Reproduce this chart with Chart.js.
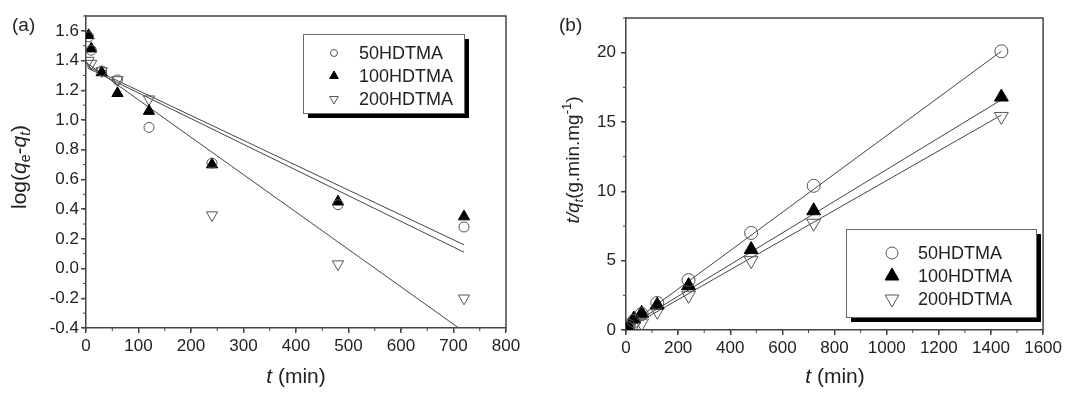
<!DOCTYPE html>
<html>
<head>
<meta charset="utf-8">
<script src="https://cdn.jsdelivr.net/npm/chart.js@4.4.0/dist/chart.umd.min.js"></script>
<style>
  body { margin: 0; background: #fff; }
  #wrap { position: relative; width: 1065px; height: 395px; }
  canvas { position: absolute; top: 0; }
  #ca { left: 0; }
  #cb { left: 530px; }
</style>
</head>
<body>
<div id="wrap">
  <canvas id="ca" width="530" height="395"></canvas>
  <canvas id="cb" width="535" height="395"></canvas>
</div>
<script>
const seriesNames = ['50HDTMA', '100HDTMA', '200HDTMA'];

// (a) log(qe-qt) vs t
const timeA = [5, 10, 30, 60, 120, 240, 480, 720];
const logA50 = [1.56, 1.47, 1.33, 1.27, 0.95, 0.71, 0.43, 0.28];
const logA100 = [1.57, 1.48, 1.32, 1.18, 1.06, 0.70, 0.45, 0.35];
const logA200 = [1.40, 1.38, 1.33, 1.27, 1.14, 0.36, 0.03, -0.20];
// fitted lines (start, end)
const fitTimeA = [[3, 720], [3, 720], [3, 710]];
const fitA = [[1.36, 0.16], [1.35, 0.11], [1.38, -0.40]];
const xTicksA = [0, 100, 200, 300, 400, 500, 600, 700, 800];
const yTicksA = [-0.4, -0.2, 0, 0.2, 0.4, 0.6, 0.8, 1.0, 1.2, 1.4, 1.6];

// (b) t/qt vs t
const timeB = [5, 10, 30, 60, 120, 240, 480, 720, 1440];
const tqB50 = [0.15, 0.3, 0.65, 1.15, 1.95, 3.6, 7.0, 10.4, 20.1];
const tqB100 = [0.12, 0.25, 0.8, 1.2, 1.8, 3.2, 5.8, 8.6, 16.8];
const tqB200 = [0.1, 0.2, 0.3, 0.5, 1.35, 2.5, 5.0, 7.7, 15.4];
const fitTimeB = [0, 1440];
const fitB = [[0.2, 20.1], [0.15, 16.6], [0.05, 15.5]];
const xTicksB = [0, 200, 400, 600, 800, 1000, 1200, 1400, 1600];
const yTicksB = [0, 5, 10, 15, 20];

const FONT = "'Liberation Sans', Arial, sans-serif";
const markers = [
  { pointStyle: 'circle', rotation: 0, fill: 'rgba(0,0,0,0)', stroke: '#555' },
  { pointStyle: 'triangle', rotation: 0, fill: '#000', stroke: '#000' },
  { pointStyle: 'triangle', rotation: 180, fill: 'rgba(0,0,0,0)', stroke: '#555' }
];

function pts(xs, ys) { return xs.map((x, i) => ({ x: x, y: ys[i] })); }

function buildDatasets(xs, seriesList, fitXs, fitYs, radii) {
  const ds = [];
  seriesList.forEach((ys, i) => {
    const m = markers[i];
    ds.push({
      label: seriesNames[i],
      data: pts(xs, ys),
      pointStyle: m.pointStyle,
      rotation: m.rotation,
      radius: m.pointStyle === 'circle' ? radii[0] : radii[1],
      backgroundColor: m.fill,
      borderColor: m.stroke,
      borderWidth: 1,
      showLine: false,
      order: 1
    });
  });
  fitYs.forEach((ys, i) => {
    const fx = Array.isArray(fitXs[0]) ? fitXs[i] : fitXs;
    ds.push({
      type: 'line',
      data: pts(fx, ys),
      borderColor: '#444',
      borderWidth: 1,
      pointRadius: 0,
      fill: false,
      order: 2
    });
  });
  return ds;
}

function mark(ctx, m, x, y, r) {
  ctx.beginPath();
  if (m.pointStyle === 'circle') {
    ctx.arc(x, y, r, 0, 2 * Math.PI);
  } else {
    let rad = m.rotation * Math.PI / 180;
    for (let k = 0; k < 3; k++) {
      ctx.lineTo(x + Math.sin(rad) * r, y - Math.cos(rad) * r);
      rad += 2 * Math.PI / 3;
    }
    ctx.closePath();
  }
  ctx.fillStyle = m.fill;
  ctx.fill();
  ctx.strokeStyle = m.stroke;
  ctx.lineWidth = 1;
  ctx.stroke();
}

// parts: [text, style] style: n normal, i italic, sub, isub, sup
function drawRich(ctx, parts, x, y, size) {
  const fontFor = st => {
    const small = (st === 'sub' || st === 'isub' || st === 'sup');
    const it = (st === 'i' || st === 'isub');
    return (it ? 'italic ' : '') + (small ? Math.round(size * 0.68) : size) + 'px ' + FONT;
  };
  let total = 0;
  parts.forEach(p => { ctx.font = fontFor(p[1]); total += ctx.measureText(p[0]).width; });
  let cx = x - total / 2;
  ctx.textBaseline = 'middle';
  ctx.textAlign = 'left';
  parts.forEach(p => {
    ctx.font = fontFor(p[1]);
    let dy = 0;
    if (p[1] === 'sub' || p[1] === 'isub') dy = size * 0.3;
    if (p[1] === 'sup') dy = -size * 0.35;
    ctx.fillText(p[0], cx, y + dy);
    cx += ctx.measureText(p[0]).width;
  });
}

const deco = {
  id: 'deco',
  afterDraw(chart, args, o) {
    const { ctx, chartArea: a } = chart;
    const x = chart.scales.x, y = chart.scales.y;
    ctx.save();
    // frame
    ctx.strokeStyle = '#444';
    ctx.lineWidth = 1.5;
    ctx.beginPath();
    ctx.moveTo(a.left, a.top);
    ctx.lineTo(a.right, a.top);
    ctx.lineTo(a.right, a.bottom);
    ctx.stroke();
    // minor ticks
    ctx.lineWidth = 1;
    ctx.beginPath();
    for (let v = x.min; v <= x.max + 1e-9; v += o.xMinor) {
      const px = x.getPixelForValue(v);
      ctx.moveTo(px, a.bottom);
      ctx.lineTo(px, a.bottom + 3);
    }
    for (let v = o.yMinorStart; v <= y.max + 1e-9; v += o.yMinor) {
      const py = y.getPixelForValue(v);
      ctx.moveTo(a.left, py);
      ctx.lineTo(a.left - 3, py);
    }
    ctx.stroke();
    // legend
    const L = o.legend;
    ctx.fillStyle = '#000';
    ctx.fillRect(L.x + 5, L.y + 5, L.w, L.h);
    ctx.fillStyle = '#fff';
    ctx.fillRect(L.x, L.y, L.w, L.h);
    ctx.strokeStyle = '#666';
    ctx.lineWidth = 1;
    ctx.strokeRect(L.x + 0.5, L.y + 0.5, L.w, L.h);
    seriesNames.forEach((name, i) => {
      const ry = L.row0 + i * L.rowH;
      const m = markers[i];
      mark(ctx, m, L.mx, ry, m.pointStyle === 'circle' ? L.rc : L.rt);
      ctx.fillStyle = '#222';
      ctx.font = '18px ' + FONT;
      ctx.textAlign = 'left';
      ctx.textBaseline = 'middle';
      ctx.fillText(name, L.tx, ry + 1);
    });
    // axis titles
    ctx.fillStyle = '#222';
    drawRich(ctx, [['t', 'i'], [' (min)', 'n']], o.xTitle[0], o.xTitle[1], 21);
    ctx.save();
    ctx.translate(o.yTitle[0], o.yTitle[1]);
    ctx.rotate(-Math.PI / 2);
    drawRich(ctx, o.yTitleParts, 0, 0, o.yTitleSize);
    ctx.restore();
    // panel label
    ctx.font = '19px ' + FONT;
    ctx.textAlign = 'left';
    ctx.textBaseline = 'middle';
    ctx.fillText(o.panel[0], o.panel[1], o.panel[2]);
    ctx.restore();
  }
};

function axis(ticksArr, min, max, fmt, fitSize, isX, pad) {
  return {
    type: 'linear',
    min: min,
    max: max,
    afterBuildTicks: s => { s.ticks = ticksArr.map(v => ({ value: v })); },
    afterFit: s => { if (isX) s.height = fitSize; else s.width = fitSize; },
    grid: { drawOnChartArea: false, tickLength: 5, color: '#444', lineWidth: 1.5 },
    border: { display: true, color: '#444', width: 1.5 },
    ticks: {
      color: '#222',
      font: { family: FONT, size: 17 },
      padding: pad,
      maxRotation: 0,
      autoSkip: false,
      callback: fmt
    }
  };
}

new Chart(document.getElementById('ca'), {
  type: 'scatter',
  data: { datasets: buildDatasets(timeA, [logA50, logA100, logA200], fitTimeA, fitA, [5, 6.5]) },
  options: {
    responsive: false,
    animation: false,
    layout: { padding: { left: 0, top: 16, right: 24, bottom: 0 } },
    scales: {
      x: axis(xTicksA, 0, 800, v => String(v), 67, true, 3),
      y: axis(yTicksA, -0.4, 1.7, v => Number(v).toFixed(1), 86, false, 2)
    },
    plugins: {
      legend: { display: false },
      tooltip: { enabled: false },
      deco: {
        xMinor: 50, yMinor: 0.1, yMinorStart: -0.4,
        legend: { x: 303, y: 34, w: 161, h: 79, mx: 334, tx: 359, row0: 53, rowH: 23, rc: 3.5, rt: 5 },
        xTitle: [296, 377],
        yTitle: [20, 167],
        yTitleSize: 21,
        yTitleParts: [['log(', 'n'], ['q', 'i'], ['e', 'sub'], ['-', 'n'], ['q', 'i'], ['t', 'isub'], [')', 'n']],
        panel: ['(a)', 12, 26]
      }
    }
  },
  plugins: [deco]
});

new Chart(document.getElementById('cb'), {
  type: 'scatter',
  data: { datasets: buildDatasets(timeB, [tqB50, tqB100, tqB200], fitTimeB, fitB, [6.5, 8]) },
  options: {
    responsive: false,
    animation: false,
    layout: { padding: { left: 0, top: 18, right: 21, bottom: 0 } },
    scales: {
      x: axis(xTicksB, 0, 1600, v => String(v), 65, true, 3),
      y: axis(yTicksB, 0, 22.5, v => String(v), 96, false, 5)
    },
    plugins: {
      legend: { display: false },
      tooltip: { enabled: false },
      deco: {
        xMinor: 100, yMinor: 2.5, yMinorStart: 0,
        legend: { x: 316, y: 229, w: 190, h: 88, mx: 362, tx: 388, row0: 253, rowH: 23, rc: 6, rt: 8 },
        xTitle: [305, 377],
        yTitle: [44, 160],
        yTitleSize: 19,
        yTitleParts: [['t/q', 'i'], ['t', 'isub'], ['(g.min.mg', 'n'], ['-1', 'sup'], [')', 'n']],
        panel: ['(b)', 29, 26]
      }
    }
  },
  plugins: [deco]
});
</script>
</body>
</html>
